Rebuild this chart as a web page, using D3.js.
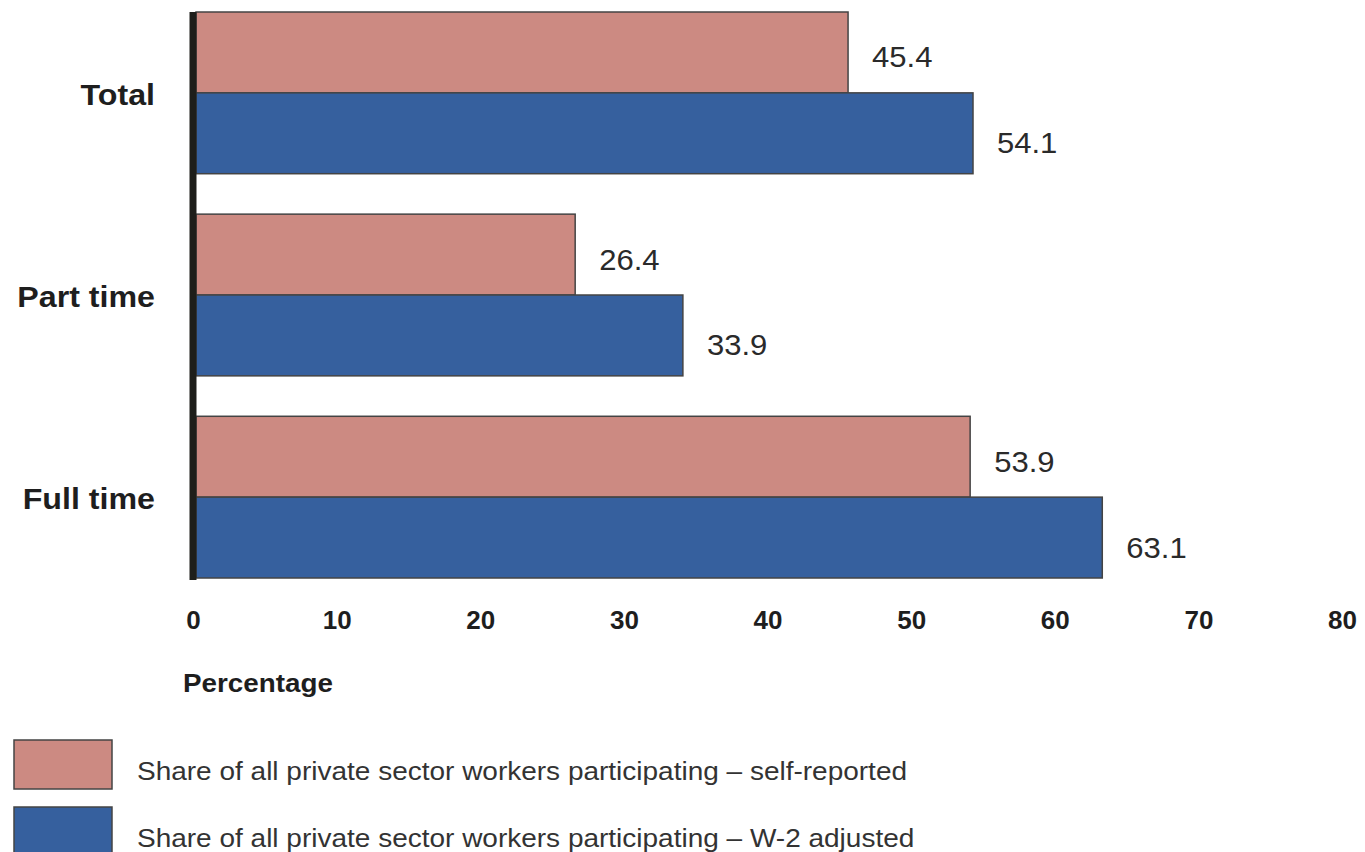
<!DOCTYPE html>
<html>
<head>
<meta charset="utf-8">
<script src="https://cdn.jsdelivr.net/npm/d3@7"></script>
<style>
  body { margin: 0; background: #fff; }
  svg { display: block; }
</style>
</head>
<body>
<svg class="chart" width="1365" height="852"></svg>
<script>
// data
var categories = ["Total", "Part time", "Full time"];
var seriesNames = [
  "Share of all private sector workers participating \u2013 self-reported",
  "Share of all private sector workers participating \u2013 W-2 adjusted"
];
var selfReported = [45.4, 26.4, 53.9];
var w2Adjusted = [54.1, 33.9, 63.1];
var tickValues = [0, 10, 20, 30, 40, 50, 60, 70, 80];

var colors = ["#cc8a82", "#36609e"];
var valueSets = [selfReported, w2Adjusted];
var font = "Liberation Sans, Arial, sans-serif";

var svg = d3.select(".chart");

// the source picture is a bit stretched sideways, so text gets a scaleX
function place(xp, yp, sx) {
  return "translate(" + xp + "," + yp + ") scale(" + sx + ",1)";
}

// scales
var x = d3.scaleLinear().domain([0, 80]).range([196, 1345]);
var y = d3.scaleBand().domain(categories).range([12, 578]).paddingInner(0.2).paddingOuter(0);
var ySub = d3.scaleBand().domain([0, 1]).range([0, y.bandwidth()]).padding(0);

var rows = [];
categories.forEach(function(c, i) {
  valueSets.forEach(function(vals, s) {
    rows.push({cat: c, s: s, v: vals[i]});
  });
});

// bars
svg.append("g").selectAll("rect")
  .data(rows)
  .enter().append("rect")
  .attr("x", x(0))
  .attr("y", function(d) { return y(d.cat) + ySub(d.s); })
  .attr("width", function(d) { return x(d.v) - x(0); })
  .attr("height", ySub.bandwidth())
  .attr("fill", function(d) { return colors[d.s]; })
  .attr("stroke", "#444")
  .attr("stroke-width", 1.5);

// value labels
svg.append("g").selectAll("text")
  .data(rows)
  .enter().append("text")
  .attr("transform", function(d) {
    return place(x(d.v) + 24, y(d.cat) + ySub(d.s) + ySub.bandwidth() / 2 + (d.s === 0 ? 15 : 20), 1.07);
  })
  .text(function(d) { return d.v.toFixed(1); })
  .style("font-family", font)
  .style("font-size", "29px")
  .attr("fill", "#2a2a2a");

// thick vertical axis line
svg.append("line")
  .attr("x1", 193).attr("x2", 193)
  .attr("y1", 12).attr("y2", 580)
  .attr("stroke", "#1e1e1a")
  .attr("stroke-width", 7);

// category labels
svg.append("g").selectAll("text")
  .data(categories)
  .enter().append("text")
  .attr("transform", function(d) { return place(155, y(d) + y.bandwidth() / 2 + 12, 1.11); })
  .attr("text-anchor", "end")
  .text(function(d) { return d; })
  .style("font-family", font)
  .style("font-size", "29px")
  .style("font-weight", "bold")
  .attr("fill", "#1e1e1e");

// x axis tick labels
var xAxis = d3.axisBottom(x).tickValues(tickValues).tickSize(0).tickPadding(0);
var gx = svg.append("g").attr("transform", "translate(-3,600)").call(xAxis);
gx.select(".domain").remove();
gx.selectAll("text")
  .style("font-family", font)
  .style("font-size", "26px")
  .style("font-weight", "bold")
  .attr("fill", "#1e1e1e")
  .attr("dy", "1.1em");

svg.append("text")
  .attr("transform", place(183, 692, 1.07))
  .text("Percentage")
  .style("font-family", font)
  .style("font-size", "26px")
  .style("font-weight", "bold")
  .attr("fill", "#1e1e1e");

// legend
var legend = svg.append("g").selectAll("g")
  .data(seriesNames)
  .enter().append("g")
  .attr("transform", function(d, i) { return "translate(14," + (740 + i * 67) + ")"; });

legend.append("rect")
  .attr("width", 98)
  .attr("height", 49)
  .attr("fill", function(d, i) { return colors[i]; })
  .attr("stroke", "#444")
  .attr("stroke-width", 1.5);

legend.append("text")
  .attr("transform", place(123, 40, 1.12))
  .text(function(d) { return d; })
  .style("font-family", font)
  .style("font-size", "25px")
  .attr("fill", "#333");
</script>
</body>
</html>
